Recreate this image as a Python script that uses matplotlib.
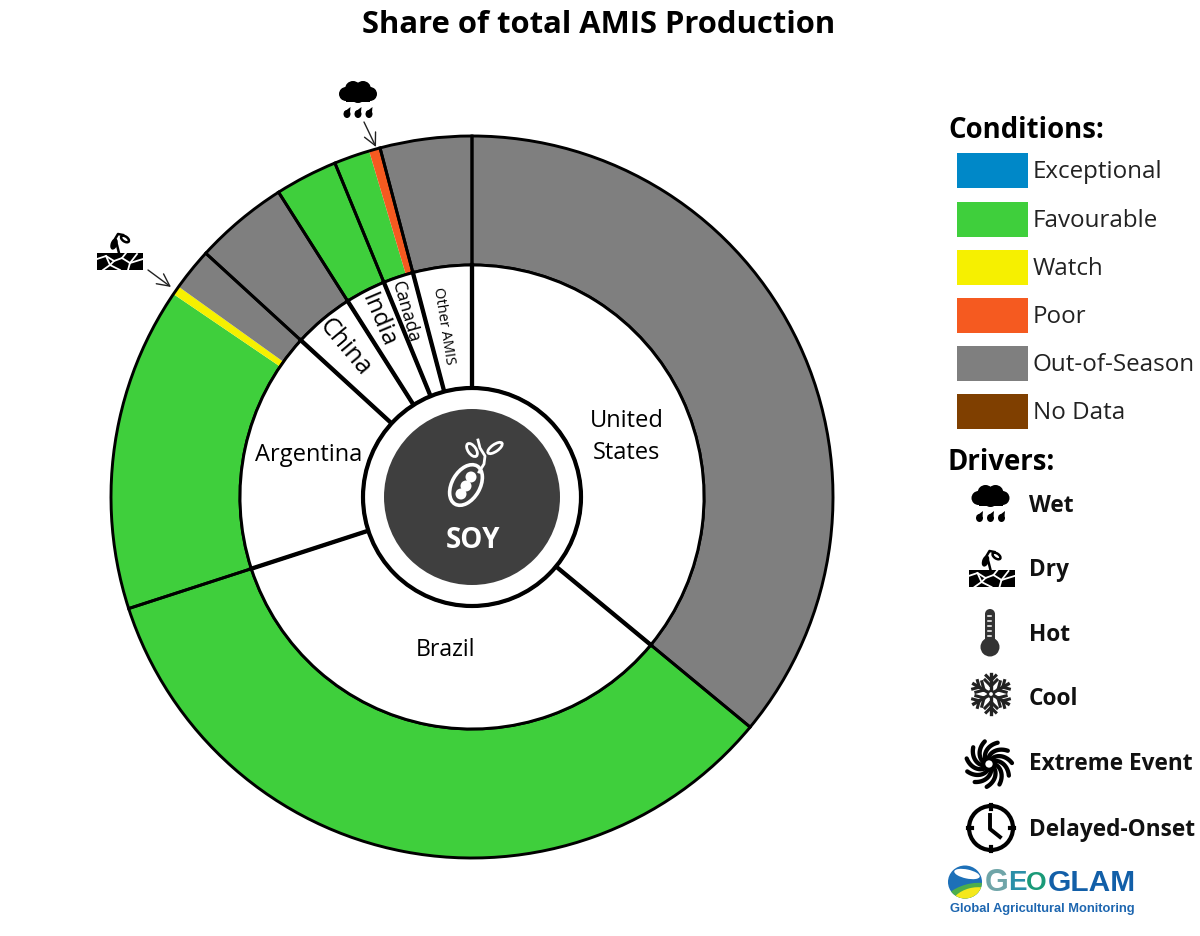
import matplotlib
matplotlib.use("Agg")
import matplotlib.pyplot as plt
from matplotlib.patches import Circle, Ellipse, Polygon, Rectangle
import numpy as np

plt.rcParams['font.family'] = ['Open Sans', 'DejaVu Sans']

# shares of total AMIS production
countries = ["United\nStates", "Brazil", "Argentina", "China", "India", "Canada", "Other AMIS"]
country_share = [36.0, 34.0, 16.8, 4.2, 2.8, 2.1, 4.1]

# outer ring, same order, countries split by condition
condition_share = [36.0, 34.0, 14.5, 0.4, 1.9, 4.2, 2.8, 1.6, 0.5, 4.1]
condition_name = ["Out-of-Season", "Favourable", "Favourable", "Watch", "Out-of-Season",
                  "Out-of-Season", "Favourable", "Favourable", "Poor", "Out-of-Season"]

legend_names = ["Exceptional", "Favourable", "Watch", "Poor", "Out-of-Season", "No Data"]
legend_colors = ["#0088c8", "#3fcf3c", "#f6f000", "#f55a20", "#7f7f7f", "#7f3f00"]
driver_names = ["Wet", "Dry", "Hot", "Cool", "Extreme Event", "Delayed-Onset"]

cond_color = dict(zip(legend_names, legend_colors))
CX, CY = 472, 497
R_OUT, R_MID, R_HOLE, R_DISC = 361, 232, 109, 88
DARK = "#3f3f3f"

fig = plt.figure(figsize=(12, 9.36), dpi=100)
ax = fig.add_axes([0, 0, 1, 1])   # pies, y up
ax.set_aspect('equal')
ov = fig.add_axes([0, 0, 1, 1])   # everything else in image pixels, y down
ov.patch.set_alpha(0)
center = (CX, 936 - CY)

# outer ring fill, no edges so yellow and orange sit flush on the green
ax.pie(condition_share, colors=[cond_color[n] for n in condition_name], radius=R_OUT,
       center=center, startangle=90, counterclock=False, frame=True, normalize=True,
       wedgeprops=dict(width=R_OUT - R_MID, linewidth=0))
# outlines per country
ax.pie(country_share, colors=['none'] * 7, radius=R_OUT, center=center, startangle=90,
       counterclock=False, frame=True, normalize=True,
       wedgeprops=dict(width=R_OUT - R_MID, linewidth=2.1, edgecolor='black'))
ax.pie(country_share, colors=['white'] * 7, radius=R_MID, center=center, startangle=90,
       counterclock=False, frame=True, normalize=True,
       wedgeprops=dict(width=R_MID - R_HOLE, linewidth=2.1, edgecolor='black'))
ax.set_xlim(0, 1200)
ax.set_ylim(0, 936)
ax.axis('off')

ov.set_xlim(0, 1200)
ov.set_ylim(936, 0)
ov.axis('off')

# spokes of the inner ring are heavier than its arcs
for a in np.radians(np.cumsum(country_share) * 3.6):
    ov.plot([CX + R_HOLE * np.sin(a), CX + R_MID * np.sin(a)],
            [CY - R_HOLE * np.cos(a), CY - R_MID * np.cos(a)], color='black', lw=3.1)

ov.add_patch(Circle((CX, CY), R_HOLE, fc='white', ec='black', lw=3, zorder=3))
ov.add_patch(Circle((CX, CY), R_DISC, fc=DARK, ec='none', zorder=3))

ov.text(599, 25, "Share of total AMIS Production", fontsize=22.3, fontweight='bold',
        ha='center', va='center')

# country labels
label_spots = [(627, 437, 0, 17), (446, 650, 0, 16.7), (309, 455, 0, 17), (345, 347, -50, 18),
               (378, 321, -67, 17.5), (405, 312, -74, 13), (444, 326, -81, 10.5)]
for name, (x, y, rot, size) in zip(countries, label_spots):
    ov.text(x, y, name, fontsize=size, rotation=rot, ha='center', va='center',
            rotation_mode='anchor', linespacing=1.45)


def cloud(x, y):
    for dx, dy, r in [(-12, 2, 7), (-5, -3, 8), (5, -3, 8), (12, 2, 7), (0, 3, 8)]:
        ov.add_patch(Circle((x + dx, y + dy), r, fc='black', ec='none'))
    ov.add_patch(Rectangle((x - 12, y + 2), 24, 8, fc='black', ec='none'))
    for dx in [-11, 0, 11]:
        ov.add_patch(Ellipse((x + dx, y + 22), 7, 8, fc='black', ec='none'))
        ov.add_patch(Polygon([(x + dx - 3, y + 20), (x + dx + 3, y + 20), (x + dx + 3.5, y + 15)],
                             fc='black', ec='none'))


def dry(x, y):
    ov.add_patch(Rectangle((x - 23, y), 46, 17, fc='black', ec='none', zorder=3))
    cracks = [[(-23, 6), (-14, 3), (-6, 8), (2, 5), (10, 10), (23, 6)],
              [(-14, 3), (-10, 12), (-17, 17)],
              [(-6, 8), (-10, 12), (0, 17)],
              [(2, 5), (6, 0)], [(10, 10), (8, 17)], [(10, 10), (17, 1)]]
    for c in cracks:
        ov.plot([x + p[0] for p in c], [y + p[1] for p in c], color='white', lw=1.3, zorder=4)
    ov.plot([x - 1, x - 3, x - 5, x - 2, x + 3], [y, y - 8, y - 14, y - 19, y - 18], color='black', lw=1.8)
    ov.add_patch(Ellipse((x - 6, y - 9), 5, 10, angle=20, fc='black', ec='black', lw=1.2))
    ov.add_patch(Ellipse((x + 5, y - 14), 9, 5, angle=35, fc='white', ec='black', lw=1.8))


def thermometer(x, y):
    ov.add_patch(Rectangle((x - 5, y - 33), 10, 33, fc='#333333', ec='none'))
    ov.add_patch(Circle((x, y - 33), 5, fc='#333333', ec='none'))
    ov.add_patch(Circle((x, y), 9.5, fc='#333333', ec='none'))
    for i in range(5):
        ov.plot([x - 2.5, x + 1], [y - 31 + i * 5] * 2, color='white', lw=1.1)


def snowflake(x, y, r=20):
    for a in np.radians(np.arange(0, 360, 60) + 90):
        d = np.array([np.cos(a), np.sin(a)])
        n = np.array([-d[1], d[0]])
        ov.plot([x, x + r * d[0]], [y, y + r * d[1]], color='#222222', lw=2.4)
        for t, w in [(0.4, 0.3), (0.68, 0.24)]:
            base = np.array([x, y]) + r * t * d
            for s in (-1, 1):
                tip = base + r * w * (d + s * n)
                ov.plot([base[0], tip[0]], [base[1], tip[1]], color='#222222', lw=2.2)
    ov.add_patch(Circle((x, y), 3, fc='white', ec='#222222', lw=1.6, zorder=3))


def cyclone(x, y, r=23):
    for a0 in np.arange(0, 2 * np.pi, 2 * np.pi / 11):
        t = np.linspace(0, 1, 15)
        rr = 5 + (r - 5) * t
        ang = a0 + 1.1 * t
        ov.plot(x + rr * np.cos(ang), y + rr * np.sin(ang), color='black', lw=3.1,
                solid_capstyle='round')
    ov.add_patch(Circle((x, y), 5.5, fc='white', ec='black', lw=2.6, zorder=3))


def clock(x, y, r=22):
    ov.add_patch(Circle((x, y), r, fc='white', ec='black', lw=3))
    for dx, dy in [(0, -1), (1, 0), (0, 1), (-1, 0)]:
        ov.plot([x + dx * (r - 3), x + dx * (r + 1)], [y + dy * (r - 3), y + dy * (r + 1)],
                color='black', lw=3)
    ov.plot([x - 1, x - 1, x + 9], [y - 13, y + 1, y + 9], color='black', lw=2.8)


# call-outs on the ring
cloud(358, 92)
ov.annotate("", xy=(376, 147), xytext=(364, 122),
            arrowprops=dict(arrowstyle='->', color='#222222', lw=1, mutation_scale=22,
                            shrinkA=0, shrinkB=0))
dry(120, 253)
ov.annotate("", xy=(171, 287), xytext=(148, 270),
            arrowprops=dict(arrowstyle='->', color='#222222', lw=1, mutation_scale=22,
                            shrinkA=0, shrinkB=0))

# soy pod in the centre disc
ov.add_patch(Ellipse((466, 485), 28, 44, angle=30, fc=DARK, ec='white', lw=2.6, zorder=4))
for dx, dy in [(-5, 9), (0, 1), (5, -8)]:
    ov.add_patch(Circle((466 + dx, 485 + dy), 5.5, fc='white', ec='none', zorder=4))
ov.plot([478, 480, 485, 484, 479], [440, 448, 456, 464, 472], color='white', lw=2, zorder=4)
ov.add_patch(Ellipse((495, 448), 17, 7, angle=-35, fc=DARK, ec='white', lw=2, zorder=4))
ov.add_patch(Ellipse((472, 450), 8, 15, angle=-35, fc=DARK, ec='white', lw=2, zorder=4))
ov.text(473, 541, "SOY", color='white', fontsize=20, fontweight='bold', ha='center', va='center',
        zorder=5)

# legend
swatch_tops = [153, 202, 250, 298, 346, 394]
ov.text(948, 130, "Conditions:", fontsize=19.8, fontweight='bold', va='center')
for name, color, top in zip(legend_names, legend_colors, swatch_tops):
    ov.add_patch(Rectangle((957, top), 71, 35, fc=color, ec='none'))
    ov.text(1033, top + 19, name, fontsize=17.4, va='center', color='#222222')

ov.text(948, 463, "Drivers:", fontsize=19.8, fontweight='bold', va='center')
for name, y in zip(driver_names, [506, 570, 635, 699, 764, 830]):
    ov.text(1029, y, name, fontsize=16.3, fontweight='bold', va='center', color='#111111')
cloud(990.5, 496)
dry(991.5, 570)
thermometer(990, 647)
snowflake(991, 694)
cyclone(989, 764)
clock(991, 828)

# GEOGLAM logo
badge = Ellipse((965, 882), 34, 33, fc='#1d70b8', ec='none')
ov.add_patch(badge)
for patch in [Ellipse((967, 874), 26, 9, angle=12, fc='white', ec='none'),
              Ellipse((970, 899), 56, 30, angle=-15, fc='#4cae4c', ec='none'),
              Ellipse((972, 899), 40, 22, angle=-15, fc='#f4e81c', ec='none')]:
    ov.add_patch(patch)
    patch.set_clip_path(badge)
logo_font = ['Liberation Sans']
logo_letters = [("G", 985, 22, '#6fa5a8'), ("E", 1008, 20, '#2a8fa8'),
                ("O", 1026, 19, '#1a9a78'), ("GLAM", 1048, 21.5, '#125fa8')]
for letter, x, size, color in logo_letters:
    ov.text(x, 883, letter, color=color, fontsize=size, fontweight='bold', family=logo_font,
            va='center')
ov.text(950, 909, "Global Agricultural Monitoring", color='#1d66b0', fontsize=9.3,
        fontweight='bold', family=logo_font, va='center')

fig.savefig("out.png", dpi=100, facecolor='white')
